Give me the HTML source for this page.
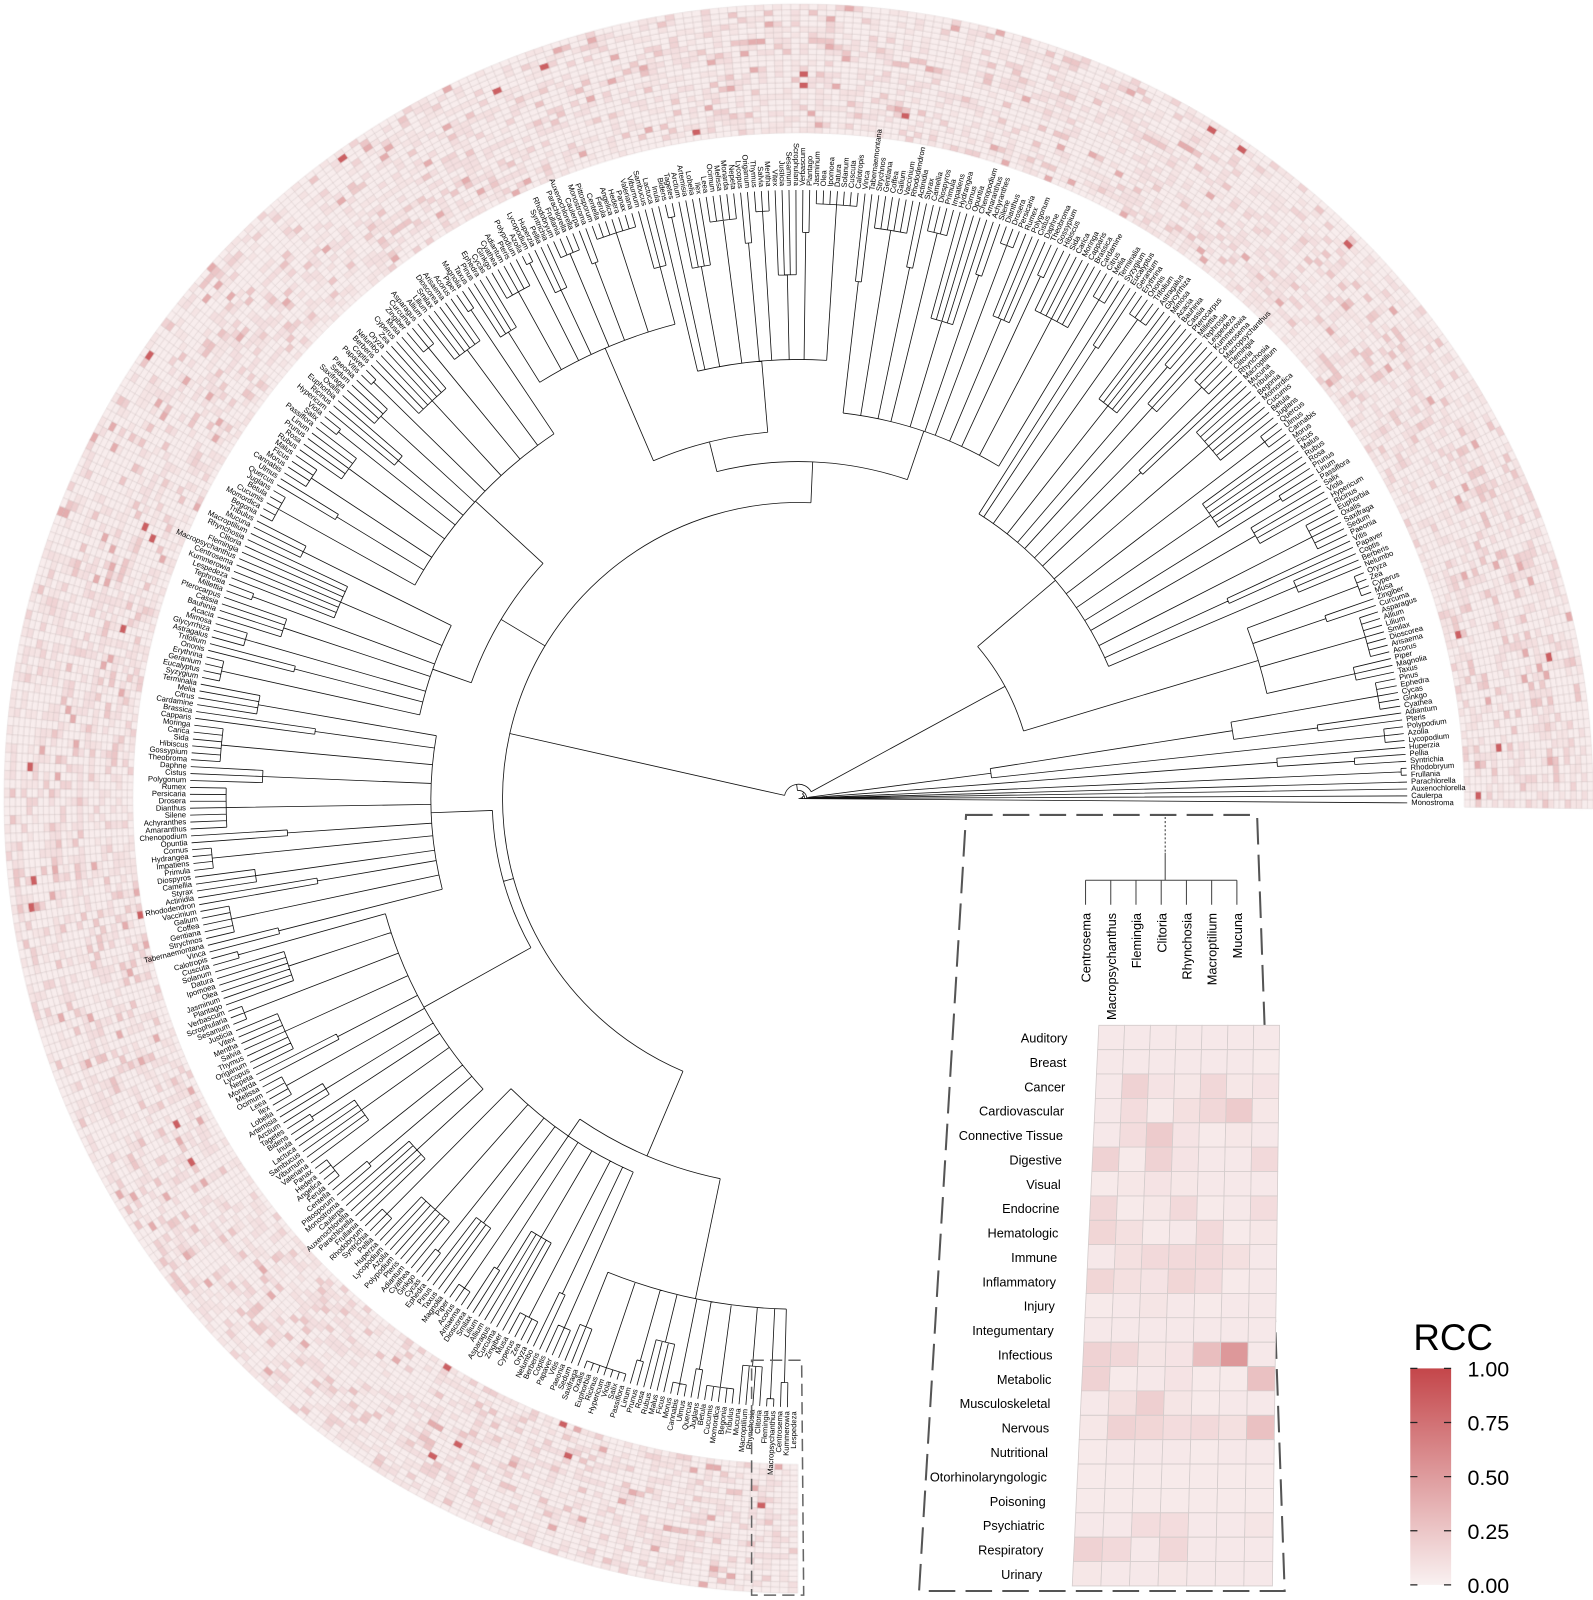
<!DOCTYPE html>
<html><head><meta charset="utf-8">
<style>
html,body{margin:0;padding:0;background:#fff;}
#wrap{position:relative;width:1593px;height:1600px;overflow:hidden;font-family:"Liberation Sans",sans-serif;}
#inner{position:absolute;left:0;top:0;width:1593px;height:1600px;transform:scale(1.0212);transform-origin:0 0;}
canvas,svg{position:absolute;left:0;top:0;}
</style></head>
<body>
<div id="wrap">
<div id="inner">
<canvas id="ring" width="1593" height="1600"></canvas>
<svg id="main" width="1593" height="1600">
  <g id="tree"></g>
  <g id="leafLabels"></g>
  <path d="M736,1332 L785,1332 L787,1562 L736,1562 Z" fill="none" stroke="#666" stroke-width="1.5" stroke-dasharray="12,6"/>
  <path d="M946,798 L1231,798 L1258,1558 L900,1558 Z" fill="none" stroke="#555" stroke-width="2" stroke-dasharray="26,10"/>
  <g id="insetTree"></g>
  <g id="inset"></g>
  <g>
    <defs><linearGradient id="lg" x1="0" y1="0" x2="0" y2="1">
      <stop offset="0" stop-color="#c4464a"/><stop offset="1" stop-color="#f9f1f1"/></linearGradient></defs>
    <text x="1384" y="1322" font-size="36" font-family="'Liberation Sans',sans-serif">RCC</text>
    <rect x="1381" y="1340" width="40" height="212" fill="url(#lg)"/>
    <g id="legTicks"></g>
  </g>
</svg>
</div>
</div>
<script>
// ---------- data ----------
const insetGenera = ["Centrosema","Macropsychanthus","Flemingia","Clitoria","Rhynchosia","Macroptilium","Mucuna"];
const categories = ["Auditory","Breast","Cancer","Cardiovascular","Connective Tissue","Digestive","Visual","Endocrine","Hematologic","Immune","Inflammatory","Injury","Integumentary","Infectious","Metabolic","Musculoskeletal","Nervous","Nutritional","Otorhinolaryngologic","Poisoning","Psychiatric","Respiratory","Urinary"];
const insetValues = [
 [.05,.05,.05,.05,.05,.05,.05],
 [.05,.05,.05,.05,.05,.05,.04],
 [.05,.18,.08,.06,.15,.06,.08],
 [.05,.12,.04,.10,.15,.22,.06],
 [.05,.12,.22,.08,.04,.06,.05],
 [.18,.04,.18,.08,.05,.05,.14],
 [.04,.06,.08,.06,.05,.05,.05],
 [.15,.04,.06,.14,.04,.05,.12],
 [.16,.10,.04,.05,.14,.04,.06],
 [.05,.10,.14,.14,.14,.10,.05],
 [.16,.10,.08,.16,.12,.04,.05],
 [.04,.05,.07,.05,.04,.05,.05],
 [.05,.05,.05,.05,.05,.05,.05],
 [.18,.15,.07,.08,.30,.52,.05],
 [.18,.04,.05,.08,.04,.04,.28],
 [.05,.10,.20,.07,.04,.05,.05],
 [.06,.18,.16,.12,.14,.10,.28],
 [.04,.05,.05,.05,.04,.05,.05],
 [.04,.04,.04,.04,.04,.04,.04],
 [.04,.04,.04,.04,.04,.04,.04],
 [.05,.05,.12,.12,.05,.05,.07],
 [.18,.14,.05,.15,.05,.05,.05],
 [.06,.05,.05,.06,.05,.05,.05]];
const legendTicks = [0,0.25,0.5,0.75,1];
const legendLabels = ["0.00","0.25","0.50","0.75","1.00"];
// estimated mean RCC per ring row (inner to outer)
const ringRowMeans = [.08,.07,.09,.10,.08,.10,.07,.09,.10,.10,.10,.07,.07,.11,.10,.09,.10,.07,.07,.07,.08,.10,.07];
const leafNames = ["Monostroma","Caulerpa","Auxenochlorella","Parachlorella","Frullania","Rhodobryum","Syntrichia","Pellia","Huperzia","Lycopodium","Azolla","Polypodium","Pteris","Adiantum","Cyathea","Ginkgo","Cycas","Ephedra","Pinus","Taxus","Magnolia","Piper","Acorus","Arisaema","Dioscorea","Smilax","Lilium","Allium","Asparagus","Curcuma","Zingiber","Musa","Cyperus","Zea","Oryza","Nelumbo","Berberis","Coptis","Papaver","Vitis","Paeonia","Sedum","Saxifraga","Oxalis","Euphorbia","Ricinus","Hypericum","Viola","Salix","Passiflora","Linum","Prunus","Rosa","Rubus","Malus","Ficus","Morus","Cannabis","Ulmus","Quercus","Juglans","Betula","Cucumis","Momordica","Begonia","Tribulus","Mucuna","Macroptilium","Rhynchosia","Clitoria","Flemingia","Macropsychanthus","Centrosema","Kummerowia","Lespedeza","Tephrosia","Millettia","Pterocarpus","Cassia","Bauhinia","Acacia","Mimosa","Glycyrrhiza","Astragalus","Trifolium","Ononis","Erythrina","Geranium","Eucalyptus","Syzygium","Terminalia","Melia","Citrus","Cardamine","Brassica","Capparis","Moringa","Carica","Sida","Hibiscus","Gossypium","Theobroma","Daphne","Cistus","Polygonum","Rumex","Persicaria","Drosera","Dianthus","Silene","Achyranthes","Amaranthus","Chenopodium","Opuntia","Cornus","Hydrangea","Impatiens","Primula","Diospyros","Camellia","Styrax","Actinidia","Rhododendron","Vaccinium","Galium","Coffea","Gentiana","Strychnos","Tabernaemontana","Vinca","Calotropis","Cuscuta","Solanum","Datura","Ipomoea","Olea","Jasminum","Plantago","Verbascum","Scrophularia","Sesamum","Justicia","Vitex","Mentha","Salvia","Thymus","Origanum","Lycopus","Nepeta","Monarda","Melissa","Ocimum","Leea","Ilex","Lobelia","Artemisia","Arctium","Tagetes","Bidens","Inula","Lactuca","Sambucus","Viburnum","Valeriana","Panax","Hedera","Angelica","Ferula","Centella","Pittosporum"];

// ---------- geometry ----------
const CX=782, CY=782, RIN=652, ROUT=778, RTIP=596, RLAB=600;
const N=415;
const A0=0.4*Math.PI/180, A1=-269.6*Math.PI/180;
function leafAngle(i){return A0+(A1-A0)*i/(N-1);}
function pt(r,a){return [CX+r*Math.cos(a), CY+r*Math.sin(a)];}
function col(v){
  v=Math.max(0,Math.min(1,v));
  const a=[249,241,241], b=[196,70,74];
  return "rgb("+a.map((x,k)=>Math.round(x+(b[k]-x)*v)).join(",")+")";
}
function hash(i,j){let h=(i*374761393+j*668265263)^0x5bd1e995;h=(h^(h>>>13))*1274126177;h=h^(h>>>16);return ((h>>>0)%10000)/10000;}

// ---------- ring heatmap ----------
(function(){
  const ctx=document.getElementById('ring').getContext('2d');
  const rows=ringRowMeans.length, dr=(ROUT-RIN)/rows;
  const da=(A1-A0)/(N-1);
  for(let i=0;i<N;i++){
    const a=leafAngle(i), aa=a-da/2, ab=a+da/2;
    for(let j=0;j<rows;j++){
      const h=hash(i,j), m=ringRowMeans[j];
      let v;
      if(h<0.6) v=m*0.3; else if(h<0.88) v=m*1.1; else if(h<0.98) v=m*2.5; else if(h<0.997) v=0.4; else v=0.85;
      const r0=RIN+j*dr, r1=r0+dr;
      ctx.beginPath();
      ctx.arc(CX,CY,r1,Math.min(aa,ab),Math.max(aa,ab));
      ctx.arc(CX,CY,r0,Math.max(aa,ab),Math.min(aa,ab),true);
      ctx.closePath();
      ctx.fillStyle=col(v);ctx.fill();
      ctx.strokeStyle="rgba(180,160,160,0.4)";ctx.lineWidth=0.5;ctx.stroke();
    }
  }
})();

// ---------- tree ----------
const NS="http://www.w3.org/2000/svg";
let d="";
let leafIdx=0;
function L(n,r){return {n:n,r:r};}
function Nd(r,ch){return {r:r,ch:ch};}
const subSizes=[3,2,5,4,2,6,3,7,2,4];
const subF=[0.85,0.6,0.92,0.75,0.5,0.88,0.7];
let subK=0;
function expandClade(c){
  const ch=[];let left=c.n;
  while(left>0){let s=Math.min(subSizes[subK%subSizes.length],left);const f=subF[subK%subF.length];subK++;
    if(s===1){ch.push({leaf:true});}
    else{const leaves=[];for(let k=0;k<s;k++)leaves.push({leaf:true});ch.push({r:c.r+(RTIP-c.r)*f,ch:leaves});}
    left-=s;}
  return {r:c.r,ch:ch};
}
function draw(node){
  if(node.leaf){const a=leafAngle(leafIdx++);return {a:a,r:RTIP};}
  if(node.n!==undefined) node=expandClade(node);
  const res=node.ch.map(draw);
  res.forEach(c=>{const p=pt(c.r,c.a),q=pt(node.r,c.a);d+=`M${p[0].toFixed(1)},${p[1].toFixed(1)}L${q[0].toFixed(1)},${q[1].toFixed(1)}`;});
  const amin=Math.min(...res.map(c=>c.a)),amax=Math.max(...res.map(c=>c.a));
  if(node.r>0.5 && amax>amin){const p=pt(node.r,amax),q=pt(node.r,amin);d+=`M${p[0].toFixed(1)},${p[1].toFixed(1)}A${node.r},${node.r} 0 ${(amax-amin)>Math.PI?1:0} 0 ${q[0].toFixed(1)},${q[1].toFixed(1)}`;}
  return {a:(amin+amax)/2,r:node.r};
}
const LF={leaf:true};
const tree=Nd(0,[LF,Nd(2,[LF,Nd(4,[LF,Nd(6,[LF,Nd(8,[L(2,560),Nd(10,[L(3,470),Nd(190,[L(3,520),L(7,430)]) ]),
  Nd(14,[
    Nd(230,[L(16,470),L(55,330)]),
    Nd(290,[
      Nd(330,[L(40,380),Nd(360,[L(30,430),L(30,480)])]),
      Nd(340,[L(45,430),L(25,380)]),
      Nd(300,[L(40,360),L(45,420)]),
      Nd(380,[L(35,400),L(34,500)])
    ])
  ])])])])])]);
draw(tree);
const tp=document.createElementNS(NS,'path');
tp.setAttribute('d',d);tp.setAttribute('fill','none');tp.setAttribute('stroke','#111');tp.setAttribute('stroke-width','0.8');


document.getElementById('tree').appendChild(tp);
// leaf labels
const lg=document.getElementById('leafLabels');
for(let i=0;i<N;i++){
  const a=leafAngle(i), deg=a*180/Math.PI, p=pt(RLAB,a);
  const t=document.createElementNS(NS,'text');
  const left=Math.cos(a)<0;
  t.setAttribute('x',p[0].toFixed(1));t.setAttribute('y',p[1].toFixed(1));
  t.setAttribute('font-size','7.5');t.setAttribute('dominant-baseline','middle');
  t.setAttribute('text-anchor',left?'end':'start');
  t.setAttribute('transform',`rotate(${(left?deg+180:deg).toFixed(2)} ${p[0].toFixed(1)} ${p[1].toFixed(1)})`);
  t.textContent=leafNames[i%leafNames.length];
  
  
  lg.appendChild(t);
}

// ---------- inset ----------
const TL=[1076,1004],TR=[1253,1004],BL=[1050,1553],BR=[1246,1553];
function bil(u,v){const x=TL[0]*(1-u)*(1-v)+TR[0]*u*(1-v)+BL[0]*(1-u)*v+BR[0]*u*v;const y=TL[1]*(1-v)+BL[1]*v;return [x,y];}
const ig=document.getElementById('inset');
const nc=insetGenera.length, nr=categories.length;
for(let j=0;j<nr;j++){
  for(let i=0;i<nc;i++){
    const p1=bil(i/nc,j/nr),p2=bil((i+1)/nc,j/nr),p3=bil((i+1)/nc,(j+1)/nr),p4=bil(i/nc,(j+1)/nr);
    const c=document.createElementNS(NS,'polygon');
    c.setAttribute('points',[p1,p2,p3,p4].map(p=>p[0].toFixed(1)+","+p[1].toFixed(1)).join(" "));
    c.setAttribute('fill',col(insetValues[j][i]));c.setAttribute('stroke','#d4cccc');c.setAttribute('stroke-width','0.8');
    
    
    ig.appendChild(c);
  }
  const lp=bil(0,(j+0.5)/nr);
  const t=document.createElementNS(NS,'text');
  t.setAttribute('x',(lp[0]-30).toFixed(1));t.setAttribute('y',(lp[1]+5).toFixed(1));
  t.setAttribute('font-size','12.5');t.setAttribute('text-anchor','end');
  t.textContent=categories[j];
  
  
  ig.appendChild(t);
}
// inset tree + labels
const itg=document.getElementById('insetTree');
let id="M1141,800L1141,835";
const ixs=insetGenera.map((g,i)=>1063+i*24.7);
let id2="M1141,835L1141,862M"+ixs[0]+",862L"+ixs[nc-1]+",862";
ixs.forEach(x=>{id2+=`M${x.toFixed(1)},862L${x.toFixed(1)},886`;});
const dp=document.createElementNS(NS,'path');dp.setAttribute('d',id);dp.setAttribute('stroke','#333');dp.setAttribute('stroke-dasharray','2,2');dp.setAttribute('fill','none');


itg.appendChild(dp);
const sp=document.createElementNS(NS,'path');sp.setAttribute('d',id2);sp.setAttribute('stroke','#444');sp.setAttribute('stroke-width','1');sp.setAttribute('fill','none');


itg.appendChild(sp);
insetGenera.forEach((g,i)=>{
  const t=document.createElementNS(NS,'text');const x=ixs[i]+5,y=894;
  t.setAttribute('x',x);t.setAttribute('y',y);t.setAttribute('font-size','12.5');t.setAttribute('text-anchor','end');
  t.setAttribute('transform',`rotate(-90 ${x} ${y})`);t.textContent=g;
  
  
  itg.appendChild(t);
});
// legend ticks
const lt=document.getElementById('legTicks');
legendTicks.forEach((v,k)=>{
  const y=1552-v*212;
  const p=document.createElementNS(NS,'path');
  p.setAttribute('d',`M1381,${y}L1388,${y}M1414,${y}L1421,${y}`);p.setAttribute('stroke','#222');p.setAttribute('stroke-width','1.2');
  
  
  lt.appendChild(p);
  const t=document.createElementNS(NS,'text');
  t.setAttribute('x',1437);t.setAttribute('y',y+8);t.setAttribute('font-size','21');t.textContent=legendLabels[k];
  
  
  lt.appendChild(t);
});
</script>
</body></html>
